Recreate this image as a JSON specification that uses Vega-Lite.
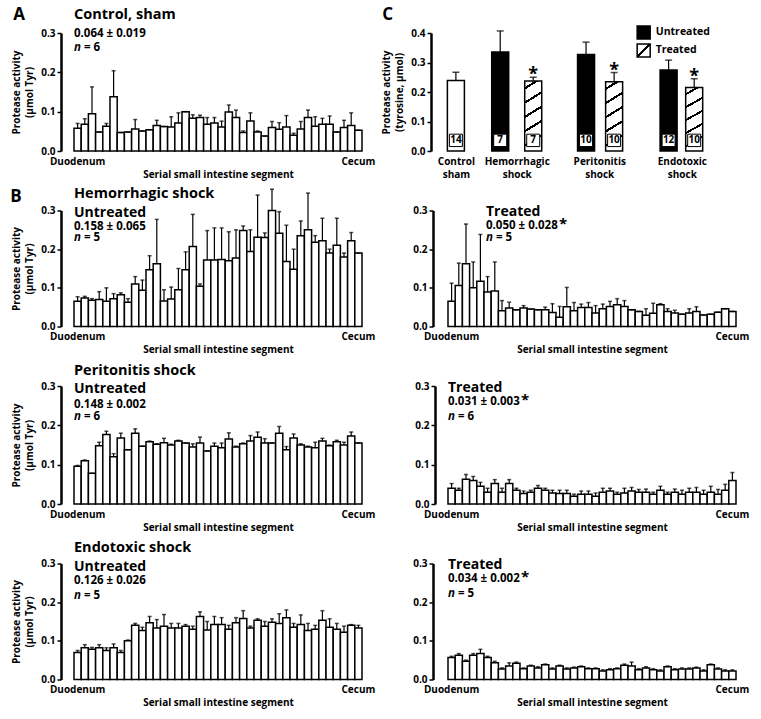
{
"$schema": "https://vega.github.io/schema/vega-lite/v6.json",
"padding": {"left": 10, "top": 5, "right": 5, "bottom": 5},
"bounds": "flush",
"columns": 2,
"spacing": {"row": 59.5, "column": 86},
"config": {
  "font": "Open Sans",
  "view": {"stroke": null},
  "axis": {"labelFont": "Open Sans", "titleFont": "Open Sans", "labelFontWeight": "bold", "titleFontWeight": "bold", "labelColor": "black", "titleColor": "black", "grid": false, "labelOverlap": false},
  "axisY": {"labelOverlap": false, "labelSeparation": -200},
  "axisQuantitative": {"labelOverlap": false},
  "text": {"font": "Open Sans", "fontWeight": "bold", "color": "black"}
},
"datasets": {
"ctrl": [{"s":1,"v":0.058,"u":0.07},{"s":2,"v":0.068,"u":0.082},{"s":3,"v":0.095,"u":0.163},{"s":4,"v":0.048,"u":0.048},{"s":5,"v":0.063,"u":0.07},{"s":6,"v":0.138,"u":0.204},{"s":7,"v":0.047,"u":0.047},{"s":8,"v":0.048,"u":0.048},{"s":9,"v":0.056,"u":0.08},{"s":10,"v":0.051,"u":0.051},{"s":11,"v":0.054,"u":0.054},{"s":12,"v":0.065,"u":0.078},{"s":13,"v":0.062,"u":0.062},{"s":14,"v":0.061,"u":0.087},{"s":15,"v":0.071,"u":0.097},{"s":16,"v":0.1,"u":0.1},{"s":17,"v":0.083,"u":0.092},{"s":18,"v":0.085,"u":0.091},{"s":19,"v":0.068,"u":0.085},{"s":20,"v":0.071,"u":0.085},{"s":21,"v":0.061,"u":0.076},{"s":22,"v":0.099,"u":0.117},{"s":23,"v":0.085,"u":0.104},{"s":24,"v":0.047,"u":0.051},{"s":25,"v":0.076,"u":0.097},{"s":26,"v":0.048,"u":0.051},{"s":27,"v":0.038,"u":0.038},{"s":28,"v":0.06,"u":0.075},{"s":29,"v":0.055,"u":0.072},{"s":30,"v":0.061,"u":0.09},{"s":31,"v":0.04,"u":0.045},{"s":32,"v":0.056,"u":0.075},{"s":33,"v":0.085,"u":0.104},{"s":34,"v":0.063,"u":0.087},{"s":35,"v":0.068,"u":0.083},{"s":36,"v":0.068,"u":0.089},{"s":37,"v":0.048,"u":0.048},{"s":38,"v":0.06,"u":0.078},{"s":39,"v":0.065,"u":0.097},{"s":40,"v":0.053,"u":0.053}],
"hemU": [{"s":1,"v":0.065,"u":0.077},{"s":2,"v":0.074,"u":0.078},{"s":3,"v":0.068,"u":0.072},{"s":4,"v":0.07,"u":0.09},{"s":5,"v":0.065,"u":0.1},{"s":6,"v":0.072,"u":0.085},{"s":7,"v":0.082,"u":0.087},{"s":8,"v":0.063,"u":0.072},{"s":9,"v":0.11,"u":0.129},{"s":10,"v":0.094,"u":0.12},{"s":11,"v":0.147,"u":0.183},{"s":12,"v":0.162,"u":0.277},{"s":13,"v":0.066,"u":0.095},{"s":14,"v":0.071,"u":0.102},{"s":15,"v":0.095,"u":0.15},{"s":16,"v":0.147,"u":0.193},{"s":17,"v":0.207,"u":0.29},{"s":18,"v":0.104,"u":0.11},{"s":19,"v":0.172,"u":0.248},{"s":20,"v":0.172,"u":0.255},{"s":21,"v":0.173,"u":0.255},{"s":22,"v":0.17,"u":0.245},{"s":23,"v":0.177,"u":0.25},{"s":24,"v":0.248,"u":0.26},{"s":25,"v":0.194,"u":0.25},{"s":26,"v":0.231,"u":0.34},{"s":27,"v":0.23,"u":0.242},{"s":28,"v":0.3,"u":0.355},{"s":29,"v":0.241,"u":0.297},{"s":30,"v":0.168,"u":0.262},{"s":31,"v":0.148,"u":0.2},{"s":32,"v":0.235,"u":0.273},{"s":33,"v":0.25,"u":0.345},{"s":34,"v":0.218,"u":0.235},{"s":35,"v":0.222,"u":0.28},{"s":36,"v":0.19,"u":0.2},{"s":37,"v":0.21,"u":0.28},{"s":38,"v":0.18,"u":0.19},{"s":39,"v":0.222,"u":0.243},{"s":40,"v":0.19,"u":0.19}],
"hemT": [{"s":1,"v":0.065,"u":0.112},{"s":2,"v":0.106,"u":0.164},{"s":3,"v":0.162,"u":0.265},{"s":4,"v":0.1,"u":0.167},{"s":5,"v":0.117,"u":0.238},{"s":6,"v":0.089,"u":0.129},{"s":7,"v":0.092,"u":0.167},{"s":8,"v":0.041,"u":0.067},{"s":9,"v":0.048,"u":0.063},{"s":10,"v":0.043,"u":0.043},{"s":11,"v":0.048,"u":0.054},{"s":12,"v":0.045,"u":0.045},{"s":13,"v":0.043,"u":0.043},{"s":14,"v":0.043,"u":0.05},{"s":15,"v":0.036,"u":0.059},{"s":16,"v":0.024,"u":0.052},{"s":17,"v":0.051,"u":0.101},{"s":18,"v":0.041,"u":0.062},{"s":19,"v":0.049,"u":0.058},{"s":20,"v":0.049,"u":0.062},{"s":21,"v":0.035,"u":0.054},{"s":22,"v":0.046,"u":0.058},{"s":23,"v":0.052,"u":0.065},{"s":24,"v":0.056,"u":0.072},{"s":25,"v":0.052,"u":0.067},{"s":26,"v":0.043,"u":0.043},{"s":27,"v":0.039,"u":0.039},{"s":28,"v":0.029,"u":0.046},{"s":29,"v":0.034,"u":0.06},{"s":30,"v":0.056,"u":0.059},{"s":31,"v":0.039,"u":0.046},{"s":32,"v":0.035,"u":0.042},{"s":33,"v":0.032,"u":0.032},{"s":34,"v":0.035,"u":0.046},{"s":35,"v":0.039,"u":0.051},{"s":36,"v":0.03,"u":0.03},{"s":37,"v":0.032,"u":0.032},{"s":38,"v":0.037,"u":0.037},{"s":39,"v":0.046,"u":0.046},{"s":40,"v":0.039,"u":0.039}],
"periU": [{"s":1,"v":0.096,"u":0.098},{"s":2,"v":0.11,"u":0.112},{"s":3,"v":0.078,"u":0.078},{"s":4,"v":0.148,"u":0.157},{"s":5,"v":0.177,"u":0.185},{"s":6,"v":0.12,"u":0.128},{"s":7,"v":0.168,"u":0.18},{"s":8,"v":0.138,"u":0.138},{"s":9,"v":0.18,"u":0.191},{"s":10,"v":0.147,"u":0.147},{"s":11,"v":0.158,"u":0.16},{"s":12,"v":0.152,"u":0.153},{"s":13,"v":0.156,"u":0.167},{"s":14,"v":0.15,"u":0.152},{"s":15,"v":0.16,"u":0.162},{"s":16,"v":0.155,"u":0.155},{"s":17,"v":0.145,"u":0.153},{"s":18,"v":0.155,"u":0.17},{"s":19,"v":0.135,"u":0.135},{"s":20,"v":0.147,"u":0.155},{"s":21,"v":0.143,"u":0.155},{"s":22,"v":0.165,"u":0.181},{"s":23,"v":0.145,"u":0.147},{"s":24,"v":0.153,"u":0.155},{"s":25,"v":0.16,"u":0.174},{"s":26,"v":0.17,"u":0.183},{"s":27,"v":0.155,"u":0.166},{"s":28,"v":0.155,"u":0.155},{"s":29,"v":0.18,"u":0.197},{"s":30,"v":0.138,"u":0.146},{"s":31,"v":0.168,"u":0.178},{"s":32,"v":0.15,"u":0.153},{"s":33,"v":0.145,"u":0.147},{"s":34,"v":0.143,"u":0.157},{"s":35,"v":0.16,"u":0.167},{"s":36,"v":0.148,"u":0.15},{"s":37,"v":0.158,"u":0.162},{"s":38,"v":0.15,"u":0.157},{"s":39,"v":0.173,"u":0.183},{"s":40,"v":0.155,"u":0.155}],
"periT": [{"s":1,"v":0.04,"u":0.052},{"s":2,"v":0.035,"u":0.04},{"s":3,"v":0.063,"u":0.075},{"s":4,"v":0.06,"u":0.07},{"s":5,"v":0.045,"u":0.055},{"s":6,"v":0.03,"u":0.04},{"s":7,"v":0.052,"u":0.062},{"s":8,"v":0.03,"u":0.04},{"s":9,"v":0.052,"u":0.062},{"s":10,"v":0.035,"u":0.04},{"s":11,"v":0.027,"u":0.033},{"s":12,"v":0.03,"u":0.035},{"s":13,"v":0.04,"u":0.047},{"s":14,"v":0.035,"u":0.04},{"s":15,"v":0.028,"u":0.035},{"s":16,"v":0.027,"u":0.035},{"s":17,"v":0.027,"u":0.035},{"s":18,"v":0.02,"u":0.025},{"s":19,"v":0.025,"u":0.033},{"s":20,"v":0.025,"u":0.033},{"s":21,"v":0.02,"u":0.028},{"s":22,"v":0.03,"u":0.04},{"s":23,"v":0.033,"u":0.04},{"s":24,"v":0.025,"u":0.03},{"s":25,"v":0.028,"u":0.04},{"s":26,"v":0.033,"u":0.042},{"s":27,"v":0.03,"u":0.037},{"s":28,"v":0.03,"u":0.038},{"s":29,"v":0.025,"u":0.03},{"s":30,"v":0.035,"u":0.045},{"s":31,"v":0.025,"u":0.03},{"s":32,"v":0.03,"u":0.038},{"s":33,"v":0.025,"u":0.035},{"s":34,"v":0.03,"u":0.04},{"s":35,"v":0.03,"u":0.042},{"s":36,"v":0.025,"u":0.035},{"s":37,"v":0.03,"u":0.045},{"s":38,"v":0.025,"u":0.037},{"s":39,"v":0.035,"u":0.05},{"s":40,"v":0.06,"u":0.08}],
"endoU": [{"s":1,"v":0.07,"u":0.075},{"s":2,"v":0.082,"u":0.09},{"s":3,"v":0.078,"u":0.083},{"s":4,"v":0.082,"u":0.09},{"s":5,"v":0.075,"u":0.082},{"s":6,"v":0.082,"u":0.092},{"s":7,"v":0.07,"u":0.075},{"s":8,"v":0.1,"u":0.102},{"s":9,"v":0.14,"u":0.145},{"s":10,"v":0.127,"u":0.135},{"s":11,"v":0.147,"u":0.163},{"s":12,"v":0.133,"u":0.155},{"s":13,"v":0.138,"u":0.168},{"s":14,"v":0.133,"u":0.145},{"s":15,"v":0.133,"u":0.145},{"s":16,"v":0.138,"u":0.142},{"s":17,"v":0.13,"u":0.138},{"s":18,"v":0.163,"u":0.175},{"s":19,"v":0.128,"u":0.15},{"s":20,"v":0.142,"u":0.163},{"s":21,"v":0.142,"u":0.16},{"s":22,"v":0.13,"u":0.14},{"s":23,"v":0.147,"u":0.16},{"s":24,"v":0.158,"u":0.178},{"s":25,"v":0.133,"u":0.138},{"s":26,"v":0.153,"u":0.157},{"s":27,"v":0.138,"u":0.15},{"s":28,"v":0.148,"u":0.157},{"s":29,"v":0.145,"u":0.17},{"s":30,"v":0.16,"u":0.18},{"s":31,"v":0.135,"u":0.145},{"s":32,"v":0.142,"u":0.167},{"s":33,"v":0.127,"u":0.145},{"s":34,"v":0.13,"u":0.14},{"s":35,"v":0.153,"u":0.178},{"s":36,"v":0.135,"u":0.157},{"s":37,"v":0.13,"u":0.145},{"s":38,"v":0.122,"u":0.138},{"s":39,"v":0.14,"u":0.142},{"s":40,"v":0.133,"u":0.14}],
"endoT": [{"s":1,"v":0.057,"u":0.06},{"s":2,"v":0.063,"u":0.067},{"s":3,"v":0.047,"u":0.05},{"s":4,"v":0.063,"u":0.067},{"s":5,"v":0.067,"u":0.078},{"s":6,"v":0.057,"u":0.06},{"s":7,"v":0.043,"u":0.047},{"s":8,"v":0.027,"u":0.03},{"s":9,"v":0.035,"u":0.043},{"s":10,"v":0.042,"u":0.045},{"s":11,"v":0.028,"u":0.03},{"s":12,"v":0.035,"u":0.037},{"s":13,"v":0.03,"u":0.033},{"s":14,"v":0.038,"u":0.04},{"s":15,"v":0.027,"u":0.03},{"s":16,"v":0.035,"u":0.037},{"s":17,"v":0.027,"u":0.03},{"s":18,"v":0.03,"u":0.032},{"s":19,"v":0.033,"u":0.035},{"s":20,"v":0.028,"u":0.03},{"s":21,"v":0.028,"u":0.03},{"s":22,"v":0.022,"u":0.025},{"s":23,"v":0.025,"u":0.028},{"s":24,"v":0.028,"u":0.03},{"s":25,"v":0.037,"u":0.04},{"s":26,"v":0.035,"u":0.045},{"s":27,"v":0.025,"u":0.028},{"s":28,"v":0.03,"u":0.033},{"s":29,"v":0.025,"u":0.028},{"s":30,"v":0.022,"u":0.025},{"s":31,"v":0.033,"u":0.035},{"s":32,"v":0.025,"u":0.028},{"s":33,"v":0.027,"u":0.03},{"s":34,"v":0.027,"u":0.03},{"s":35,"v":0.03,"u":0.032},{"s":36,"v":0.022,"u":0.025},{"s":37,"v":0.038,"u":0.04},{"s":38,"v":0.027,"u":0.03},{"s":39,"v":0.022,"u":0.025},{"s":40,"v":0.022,"u":0.025}],
"summary": [{"g":"Control","t":"Sham","p":0.263,"v":0.239,"u":0.267,"n":"14"},{"g":"Hemorrhagic","t":"Untreated","p":0.8,"v":0.336,"u":0.407,"n":"7"},{"g":"Hemorrhagic","t":"Treated","p":1.2,"v":0.237,"u":0.25,"n":"7"},{"g":"Peritonitis","t":"Untreated","p":1.84,"v":0.327,"u":0.369,"n":"10"},{"g":"Peritonitis","t":"Treated","p":2.18,"v":0.235,"u":0.266,"n":"10"},{"g":"Endotoxic","t":"Untreated","p":2.84,"v":0.275,"u":0.308,"n":"12"},{"g":"Endotoxic","t":"Treated","p":3.15,"v":0.215,"u":0.245,"n":"10"}]
},
"concat": [
 {"width": 288, "height": 118, "data": {"name": "ctrl"},
  "layer": [
   {"mark": {"type": "bar", "fill": "white", "stroke": "black", "strokeWidth": 1.5},
    "encoding": {"x": {"field": "s", "type": "ordinal", "scale": {"paddingInner": 0, "paddingOuter": 0}, "axis": {"values": [1, 40], "labelExpr": "datum.value == 1 ? 'Duodenum' : 'Cecum'", "ticks": false, "tickSize": 0, "domain": false, "labelAngle": 0, "title": "Serial small intestine segment", "labelPadding": 5, "titlePadding": 3, "labelFontSize": 10, "titleFontSize": 10, "labelOverlap": false}},
     "y": {"field": "v", "type": "quantitative", "scale": {"domain": [0, 0.3], "nice": false}, "axis": {"title": ["Protease activity", "(µmol Tyr)"], "tickCount": 4, "format": ".1f", "offset": 13, "domainWidth": 2.5, "domainColor": "black", "tickWidth": 1.5, "tickSize": 4, "tickColor": "black", "labelPadding": 2, "titlePadding": 6, "titleLineHeight": 13, "labelFontSize": 10, "titleFontSize": 10, "labelOverlap": false, "labelSeparation": -200}}}},
   {"mark": {"type": "rule", "color": "black", "strokeWidth": 1.2}, "encoding": {"x": {"field": "s", "type": "ordinal"}, "y": {"field": "v", "type": "quantitative"}, "y2": {"field": "u"}}},
   {"mark": {"type": "tick", "color": "black", "thickness": 1.5, "size": 4}, "encoding": {"x": {"field": "s", "type": "ordinal"}, "y": {"field": "u", "type": "quantitative"}}},
   {"data": {"values": [{"t": "Control, sham"}]}, "mark": {"type": "text", "align": "left", "baseline": "middle", "fontSize": 14.5}, "encoding": {"x": {"datum": 1, "type": "ordinal", "bandPosition": 0}, "y": {"datum": 0.3458, "type": "quantitative"}, "text": {"field": "t"}}},
   {"data": {"values": [{"t": "0.064 ± 0.019"}]}, "mark": {"type": "text", "align": "left", "baseline": "middle", "fontSize": 11.5}, "encoding": {"x": {"datum": 1, "type": "ordinal", "bandPosition": 0}, "y": {"datum": 0.2975, "type": "quantitative"}, "text": {"field": "t"}}},
   {"data": {"values": [{"t": "n"}]}, "mark": {"type": "text", "align": "left", "baseline": "middle", "fontSize": 11.5, "fontStyle": "italic"}, "encoding": {"x": {"datum": 1, "type": "ordinal", "bandPosition": 0}, "y": {"datum": 0.262, "type": "quantitative"}, "text": {"field": "t"}}},
   {"data": {"values": [{"t": "= 6"}]}, "mark": {"type": "text", "align": "left", "baseline": "middle", "fontSize": 11.5, "dx": 10}, "encoding": {"x": {"datum": 1, "type": "ordinal", "bandPosition": 0}, "y": {"datum": 0.262, "type": "quantitative"}, "text": {"field": "t"}}},
   {"data": {"values": [{"t": "A"}]}, "mark": {"type": "text", "align": "center", "baseline": "middle", "fontSize": 17, "dx": -55}, "encoding": {"x": {"datum": 1, "type": "ordinal", "bandPosition": 0}, "y": {"datum": 0.3458, "type": "quantitative"}, "text": {"field": "t"}}}
  ]},
 {"width": 288, "height": 118, "data": {"name": "summary"},
  "layer": [
   {"transform": [{"filter": "datum.g == 'Control'"}], "mark": {"type": "bar", "width": 17, "fill": "white", "stroke": "black", "strokeWidth": 1.5},
    "encoding": {"x": {"field": "p", "type": "quantitative", "scale": {"domain": [0.228, 3.596], "nice": false, "zero": false}, "axis": {"values": [0.263, 1, 2, 3], "labelExpr": "datum.value < 0.5 ? ['Control','sham'] : datum.value < 1.5 ? ['Hemorrhagic','shock'] : datum.value < 2.5 ? ['Peritonitis','shock'] : ['Endotoxic','shock']", "ticks": false, "tickSize": 0, "domain": false, "title": null, "labelPadding": 5, "labelFontSize": 10, "labelLineHeight": 13, "labelFlush": false, "labelOverlap": false, "labelBound": false}},
     "y": {"field": "v", "type": "quantitative", "scale": {"domain": [0, 0.4], "nice": false}, "axis": {"title": ["Protease activity", "(tyrosine, µmol)"], "tickCount": 5, "format": ".1f", "offset": 17, "domainWidth": 2.5, "domainColor": "black", "tickWidth": 1.5, "tickSize": 4, "tickColor": "black", "labelPadding": 2, "titlePadding": 6, "titleLineHeight": 13, "labelFontSize": 10, "titleFontSize": 10, "labelOverlap": false, "labelSeparation": -200}}}},
   {"transform": [{"filter": "datum.g != 'Control'"}], "mark": {"type": "bar", "width": 17, "stroke": "black", "strokeWidth": 1.5},
    "encoding": {"x": {"field": "p", "type": "quantitative"}, "y": {"field": "v", "type": "quantitative"},
     "fill": {"condition": {"test": "datum.t == 'Treated'", "value": {"gradient": "linear", "x1": 0, "y1": 0, "x2": 0.15, "y2": 1, "stops": [{"offset": 0, "color": "white"}, {"offset": 0.085, "color": "white"}, {"offset": 0.085, "color": "black"}, {"offset": 0.12, "color": "black"}, {"offset": 0.12, "color": "white"}, {"offset": 0.285, "color": "white"}, {"offset": 0.285, "color": "black"}, {"offset": 0.32, "color": "black"}, {"offset": 0.32, "color": "white"}, {"offset": 0.485, "color": "white"}, {"offset": 0.485, "color": "black"}, {"offset": 0.52, "color": "black"}, {"offset": 0.52, "color": "white"}, {"offset": 0.685, "color": "white"}, {"offset": 0.685, "color": "black"}, {"offset": 0.72, "color": "black"}, {"offset": 0.72, "color": "white"}, {"offset": 0.885, "color": "white"}, {"offset": 0.885, "color": "black"}, {"offset": 0.92, "color": "black"}, {"offset": 0.92, "color": "white"}, {"offset": 1, "color": "white"}]}}, "value": "black"}}},
   {"mark": {"type": "rule", "color": "black", "strokeWidth": 1.2}, "encoding": {"x": {"field": "p", "type": "quantitative"}, "y": {"field": "v", "type": "quantitative"}, "y2": {"field": "u"}}},
   {"mark": {"type": "tick", "color": "black", "thickness": 1.5, "size": 7, "orient": "horizontal"}, "encoding": {"x": {"field": "p", "type": "quantitative"}, "y": {"field": "u", "type": "quantitative"}}},
   {"mark": {"type": "bar", "width": 13, "fill": "white", "stroke": "black", "strokeWidth": 1}, "encoding": {"x": {"field": "p", "type": "quantitative"}, "y": {"datum": 0.015, "type": "quantitative"}, "y2": {"datum": 0.057}}},
   {"mark": {"type": "text", "align": "center", "baseline": "middle", "fontSize": 10}, "encoding": {"x": {"field": "p", "type": "quantitative"}, "y": {"datum": 0.036, "type": "quantitative"}, "text": {"field": "n"}}},
   {"transform": [{"filter": "datum.t == 'Treated'"}], "mark": {"type": "text", "align": "center", "baseline": "bottom", "fontSize": 18, "dy": 7}, "encoding": {"x": {"field": "p", "type": "quantitative"}, "y": {"field": "u", "type": "quantitative"}, "text": {"value": "*"}}},
   {"data": {"values": [{"t": "Untreated"}]}, "mark": {"type": "point", "shape": "square", "size": 169, "filled": true, "fill": "black", "stroke": "black", "strokeWidth": 1.5, "opacity": 1}, "encoding": {"x": {"datum": 2.538, "type": "quantitative"}, "y": {"datum": 0.4017, "type": "quantitative"}}},
   {"data": {"values": [{"t": "Treated"}]}, "mark": {"type": "point", "shape": "square", "size": 169, "filled": true, "stroke": "black", "strokeWidth": 1.5, "opacity": 1, "fill": {"gradient": "linear", "x1": 0, "y1": 0, "x2": 1, "y2": 1, "stops": [{"offset": 0, "color": "white"}, {"offset": 0.44, "color": "white"}, {"offset": 0.44, "color": "black"}, {"offset": 0.56, "color": "black"}, {"offset": 0.56, "color": "white"}, {"offset": 1, "color": "white"}]}}, "encoding": {"x": {"datum": 2.538, "type": "quantitative"}, "y": {"datum": 0.3407, "type": "quantitative"}}},
   {"data": {"values": [{"t": "Untreated"}]}, "mark": {"type": "text", "align": "left", "baseline": "middle", "fontSize": 10.5}, "encoding": {"x": {"datum": 2.684, "type": "quantitative"}, "y": {"datum": 0.4017, "type": "quantitative"}, "text": {"field": "t"}}},
   {"data": {"values": [{"t": "Treated"}]}, "mark": {"type": "text", "align": "left", "baseline": "middle", "fontSize": 10.5}, "encoding": {"x": {"datum": 2.684, "type": "quantitative"}, "y": {"datum": 0.3407, "type": "quantitative"}, "text": {"field": "t"}}},
   {"data": {"values": [{"t": "C"}]}, "mark": {"type": "text", "align": "center", "baseline": "middle", "fontSize": 17}, "encoding": {"x": {"datum": -0.564, "type": "quantitative"}, "y": {"datum": 0.461, "type": "quantitative"}, "text": {"field": "t"}}}
  ]},
 {"width": 288, "height": 116, "data": {"name": "hemU"},
  "layer": [
   {"mark": {"type": "bar", "fill": "white", "stroke": "black", "strokeWidth": 1.5},
    "encoding": {"x": {"field": "s", "type": "ordinal", "scale": {"paddingInner": 0, "paddingOuter": 0}, "axis": {"values": [1, 40], "labelExpr": "datum.value == 1 ? 'Duodenum' : 'Cecum'", "ticks": false, "tickSize": 0, "domain": false, "labelAngle": 0, "title": "Serial small intestine segment", "labelPadding": 5, "titlePadding": 3, "labelFontSize": 10, "titleFontSize": 10, "labelOverlap": false}},
     "y": {"field": "v", "type": "quantitative", "scale": {"domain": [0, 0.3], "nice": false}, "axis": {"title": ["Protease activity", "(µmol Tyr)"], "tickCount": 4, "format": ".1f", "offset": 13, "domainWidth": 2.5, "domainColor": "black", "tickWidth": 1.5, "tickSize": 4, "tickColor": "black", "labelPadding": 2, "titlePadding": 6, "titleLineHeight": 13, "labelFontSize": 10, "titleFontSize": 10, "labelOverlap": false, "labelSeparation": -200}}}},
   {"mark": {"type": "rule", "color": "black", "strokeWidth": 1.2}, "encoding": {"x": {"field": "s", "type": "ordinal"}, "y": {"field": "v", "type": "quantitative"}, "y2": {"field": "u"}}},
   {"mark": {"type": "tick", "color": "black", "thickness": 1.5, "size": 4}, "encoding": {"x": {"field": "s", "type": "ordinal"}, "y": {"field": "u", "type": "quantitative"}}},
   {"data": {"values": [{"t": "Hemorrhagic shock"}]}, "mark": {"type": "text", "align": "left", "baseline": "middle", "fontSize": 14.5}, "encoding": {"x": {"datum": 1, "type": "ordinal", "bandPosition": 0}, "y": {"datum": 0.3414, "type": "quantitative"}, "text": {"field": "t"}}},
   {"data": {"values": [{"t": "Untreated"}]}, "mark": {"type": "text", "align": "left", "baseline": "middle", "fontSize": 14}, "encoding": {"x": {"datum": 1, "type": "ordinal", "bandPosition": 0}, "y": {"datum": 0.2948, "type": "quantitative"}, "text": {"field": "t"}}},
   {"data": {"values": [{"t": "0.158 ± 0.065"}]}, "mark": {"type": "text", "align": "left", "baseline": "middle", "fontSize": 11.5}, "encoding": {"x": {"datum": 1, "type": "ordinal", "bandPosition": 0}, "y": {"datum": 0.2586, "type": "quantitative"}, "text": {"field": "t"}}},
   {"data": {"values": [{"t": "n"}]}, "mark": {"type": "text", "align": "left", "baseline": "middle", "fontSize": 11.5, "fontStyle": "italic"}, "encoding": {"x": {"datum": 1, "type": "ordinal", "bandPosition": 0}, "y": {"datum": 0.23, "type": "quantitative"}, "text": {"field": "t"}}},
   {"data": {"values": [{"t": "= 5"}]}, "mark": {"type": "text", "align": "left", "baseline": "middle", "fontSize": 11.5, "dx": 10}, "encoding": {"x": {"datum": 1, "type": "ordinal", "bandPosition": 0}, "y": {"datum": 0.23, "type": "quantitative"}, "text": {"field": "t"}}},
   {"data": {"values": [{"t": "B"}]}, "mark": {"type": "text", "align": "center", "baseline": "middle", "fontSize": 17, "dx": -58}, "encoding": {"x": {"datum": 1, "type": "ordinal", "bandPosition": 0}, "y": {"datum": 0.3362, "type": "quantitative"}, "text": {"field": "t"}}}
  ]},
 {"width": 288, "height": 116, "data": {"name": "hemT"},
  "layer": [
   {"mark": {"type": "bar", "fill": "white", "stroke": "black", "strokeWidth": 1.5},
    "encoding": {"x": {"field": "s", "type": "ordinal", "scale": {"paddingInner": 0, "paddingOuter": 0}, "axis": {"values": [1, 40], "labelExpr": "datum.value == 1 ? 'Duodenum' : 'Cecum'", "ticks": false, "tickSize": 0, "domain": false, "labelAngle": 0, "title": "Serial small intestine segment", "labelPadding": 5, "titlePadding": 3, "labelFontSize": 10, "titleFontSize": 10, "labelOverlap": false}},
     "y": {"field": "v", "type": "quantitative", "scale": {"domain": [0, 0.3], "nice": false}, "axis": {"title": null, "tickCount": 4, "format": ".1f", "offset": 15, "domainWidth": 2.5, "domainColor": "black", "tickWidth": 1.5, "tickSize": 4, "tickColor": "black", "labelPadding": 2, "labelFontSize": 10, "labelOverlap": false, "labelSeparation": -200}}}},
   {"mark": {"type": "rule", "color": "black", "strokeWidth": 1.2}, "encoding": {"x": {"field": "s", "type": "ordinal"}, "y": {"field": "v", "type": "quantitative"}, "y2": {"field": "u"}}},
   {"mark": {"type": "tick", "color": "black", "thickness": 1.5, "size": 4}, "encoding": {"x": {"field": "s", "type": "ordinal"}, "y": {"field": "u", "type": "quantitative"}}},
   {"data": {"values": [{"t": "Treated"}]}, "mark": {"type": "text", "align": "left", "baseline": "middle", "fontSize": 14, "dx": 2}, "encoding": {"x": {"datum": 6, "type": "ordinal", "bandPosition": 0}, "y": {"datum": 0.297, "type": "quantitative"}, "text": {"field": "t"}}},
   {"data": {"values": [{"t": "0.050 ± 0.028"}]}, "mark": {"type": "text", "align": "left", "baseline": "middle", "fontSize": 11.5, "dx": 2}, "encoding": {"x": {"datum": 6, "type": "ordinal", "bandPosition": 0}, "y": {"datum": 0.261, "type": "quantitative"}, "text": {"field": "t"}}},
   {"data": {"values": [{"t": "*"}]}, "mark": {"type": "text", "align": "left", "baseline": "middle", "fontSize": 15, "dx": 75, "dy": -2}, "encoding": {"x": {"datum": 6, "type": "ordinal", "bandPosition": 0}, "y": {"datum": 0.261, "type": "quantitative"}, "text": {"field": "t"}}},
   {"data": {"values": [{"t": "n"}]}, "mark": {"type": "text", "align": "left", "baseline": "middle", "fontSize": 11.5, "fontStyle": "italic", "dx": 2}, "encoding": {"x": {"datum": 6, "type": "ordinal", "bandPosition": 0}, "y": {"datum": 0.2276, "type": "quantitative"}, "text": {"field": "t"}}},
   {"data": {"values": [{"t": "= 5"}]}, "mark": {"type": "text", "align": "left", "baseline": "middle", "fontSize": 11.5, "dx": 12}, "encoding": {"x": {"datum": 6, "type": "ordinal", "bandPosition": 0}, "y": {"datum": 0.2276, "type": "quantitative"}, "text": {"field": "t"}}}
  ]},
 {"width": 288, "height": 118, "data": {"name": "periU"},
  "layer": [
   {"mark": {"type": "bar", "fill": "white", "stroke": "black", "strokeWidth": 1.5},
    "encoding": {"x": {"field": "s", "type": "ordinal", "scale": {"paddingInner": 0, "paddingOuter": 0}, "axis": {"values": [1, 40], "labelExpr": "datum.value == 1 ? 'Duodenum' : 'Cecum'", "ticks": false, "tickSize": 0, "domain": false, "labelAngle": 0, "title": "Serial small intestine segment", "labelPadding": 5, "titlePadding": 3, "labelFontSize": 10, "titleFontSize": 10, "labelOverlap": false}},
     "y": {"field": "v", "type": "quantitative", "scale": {"domain": [0, 0.3], "nice": false}, "axis": {"title": ["Protease activity", "(µmol Tyr)"], "tickCount": 4, "format": ".1f", "offset": 13, "domainWidth": 2.5, "domainColor": "black", "tickWidth": 1.5, "tickSize": 4, "tickColor": "black", "labelPadding": 2, "titlePadding": 6, "titleLineHeight": 13, "labelFontSize": 10, "titleFontSize": 10, "labelOverlap": false, "labelSeparation": -200}}}},
   {"mark": {"type": "rule", "color": "black", "strokeWidth": 1.2}, "encoding": {"x": {"field": "s", "type": "ordinal"}, "y": {"field": "v", "type": "quantitative"}, "y2": {"field": "u"}}},
   {"mark": {"type": "tick", "color": "black", "thickness": 1.5, "size": 4}, "encoding": {"x": {"field": "s", "type": "ordinal"}, "y": {"field": "u", "type": "quantitative"}}},
   {"data": {"values": [{"t": "Peritonitis shock"}]}, "mark": {"type": "text", "align": "left", "baseline": "middle", "fontSize": 14.5}, "encoding": {"x": {"datum": 1, "type": "ordinal", "bandPosition": 0}, "y": {"datum": 0.338, "type": "quantitative"}, "text": {"field": "t"}}},
   {"data": {"values": [{"t": "Untreated"}]}, "mark": {"type": "text", "align": "left", "baseline": "middle", "fontSize": 14}, "encoding": {"x": {"datum": 1, "type": "ordinal", "bandPosition": 0}, "y": {"datum": 0.292, "type": "quantitative"}, "text": {"field": "t"}}},
   {"data": {"values": [{"t": "0.148 ± 0.002"}]}, "mark": {"type": "text", "align": "left", "baseline": "middle", "fontSize": 11.5}, "encoding": {"x": {"datum": 1, "type": "ordinal", "bandPosition": 0}, "y": {"datum": 0.252, "type": "quantitative"}, "text": {"field": "t"}}},
   {"data": {"values": [{"t": "n"}]}, "mark": {"type": "text", "align": "left", "baseline": "middle", "fontSize": 11.5, "fontStyle": "italic"}, "encoding": {"x": {"datum": 1, "type": "ordinal", "bandPosition": 0}, "y": {"datum": 0.221, "type": "quantitative"}, "text": {"field": "t"}}},
   {"data": {"values": [{"t": "= 6"}]}, "mark": {"type": "text", "align": "left", "baseline": "middle", "fontSize": 11.5, "dx": 10}, "encoding": {"x": {"datum": 1, "type": "ordinal", "bandPosition": 0}, "y": {"datum": 0.221, "type": "quantitative"}, "text": {"field": "t"}}}
  ]},
 {"width": 288, "height": 118, "data": {"name": "periT"},
  "layer": [
   {"mark": {"type": "bar", "fill": "white", "stroke": "black", "strokeWidth": 1.5},
    "encoding": {"x": {"field": "s", "type": "ordinal", "scale": {"paddingInner": 0, "paddingOuter": 0}, "axis": {"values": [1, 40], "labelExpr": "datum.value == 1 ? 'Duodenum' : 'Cecum'", "ticks": false, "tickSize": 0, "domain": false, "labelAngle": 0, "title": "Serial small intestine segment", "labelPadding": 5, "titlePadding": 3, "labelFontSize": 10, "titleFontSize": 10, "labelOverlap": false}},
     "y": {"field": "v", "type": "quantitative", "scale": {"domain": [0, 0.3], "nice": false}, "axis": {"title": null, "tickCount": 4, "format": ".1f", "offset": 13, "domainWidth": 2.5, "domainColor": "black", "tickWidth": 1.5, "tickSize": 4, "tickColor": "black", "labelPadding": 2, "labelFontSize": 10, "labelOverlap": false, "labelSeparation": -200}}}},
   {"mark": {"type": "rule", "color": "black", "strokeWidth": 1.2}, "encoding": {"x": {"field": "s", "type": "ordinal"}, "y": {"field": "v", "type": "quantitative"}, "y2": {"field": "u"}}},
   {"mark": {"type": "tick", "color": "black", "thickness": 1.5, "size": 4}, "encoding": {"x": {"field": "s", "type": "ordinal"}, "y": {"field": "u", "type": "quantitative"}}},
   {"data": {"values": [{"t": "Treated"}]}, "mark": {"type": "text", "align": "left", "baseline": "middle", "fontSize": 14}, "encoding": {"x": {"datum": 1, "type": "ordinal", "bandPosition": 0}, "y": {"datum": 0.295, "type": "quantitative"}, "text": {"field": "t"}}},
   {"data": {"values": [{"t": "0.031 ± 0.003"}]}, "mark": {"type": "text", "align": "left", "baseline": "middle", "fontSize": 11.5}, "encoding": {"x": {"datum": 1, "type": "ordinal", "bandPosition": 0}, "y": {"datum": 0.259, "type": "quantitative"}, "text": {"field": "t"}}},
   {"data": {"values": [{"t": "*"}]}, "mark": {"type": "text", "align": "left", "baseline": "middle", "fontSize": 15, "dx": 73, "dy": -2}, "encoding": {"x": {"datum": 1, "type": "ordinal", "bandPosition": 0}, "y": {"datum": 0.259, "type": "quantitative"}, "text": {"field": "t"}}},
   {"data": {"values": [{"t": "n"}]}, "mark": {"type": "text", "align": "left", "baseline": "middle", "fontSize": 11.5, "fontStyle": "italic"}, "encoding": {"x": {"datum": 1, "type": "ordinal", "bandPosition": 0}, "y": {"datum": 0.221, "type": "quantitative"}, "text": {"field": "t"}}},
   {"data": {"values": [{"t": "= 6"}]}, "mark": {"type": "text", "align": "left", "baseline": "middle", "fontSize": 11.5, "dx": 10}, "encoding": {"x": {"datum": 1, "type": "ordinal", "bandPosition": 0}, "y": {"datum": 0.221, "type": "quantitative"}, "text": {"field": "t"}}}
  ]},
 {"width": 288, "height": 116, "data": {"name": "endoU"},
  "layer": [
   {"mark": {"type": "bar", "fill": "white", "stroke": "black", "strokeWidth": 1.5},
    "encoding": {"x": {"field": "s", "type": "ordinal", "scale": {"paddingInner": 0, "paddingOuter": 0}, "axis": {"values": [1, 40], "labelExpr": "datum.value == 1 ? 'Duodenum' : 'Cecum'", "ticks": false, "tickSize": 0, "domain": false, "labelAngle": 0, "title": "Serial small intestine segment", "labelPadding": 5, "titlePadding": 3, "labelFontSize": 10, "titleFontSize": 10, "labelOverlap": false}},
     "y": {"field": "v", "type": "quantitative", "scale": {"domain": [0, 0.3], "nice": false}, "axis": {"title": ["Protease activity", "(µmol Tyr)"], "tickCount": 4, "format": ".1f", "offset": 13, "domainWidth": 2.5, "domainColor": "black", "tickWidth": 1.5, "tickSize": 4, "tickColor": "black", "labelPadding": 2, "titlePadding": 6, "titleLineHeight": 13, "labelFontSize": 10, "titleFontSize": 10, "labelOverlap": false, "labelSeparation": -200}}}},
   {"mark": {"type": "rule", "color": "black", "strokeWidth": 1.2}, "encoding": {"x": {"field": "s", "type": "ordinal"}, "y": {"field": "v", "type": "quantitative"}, "y2": {"field": "u"}}},
   {"mark": {"type": "tick", "color": "black", "thickness": 1.5, "size": 4}, "encoding": {"x": {"field": "s", "type": "ordinal"}, "y": {"field": "u", "type": "quantitative"}}},
   {"data": {"values": [{"t": "Endotoxic shock"}]}, "mark": {"type": "text", "align": "left", "baseline": "middle", "fontSize": 14.5}, "encoding": {"x": {"datum": 1, "type": "ordinal", "bandPosition": 0}, "y": {"datum": 0.341, "type": "quantitative"}, "text": {"field": "t"}}},
   {"data": {"values": [{"t": "Untreated"}]}, "mark": {"type": "text", "align": "left", "baseline": "middle", "fontSize": 14}, "encoding": {"x": {"datum": 1, "type": "ordinal", "bandPosition": 0}, "y": {"datum": 0.292, "type": "quantitative"}, "text": {"field": "t"}}},
   {"data": {"values": [{"t": "0.126 ± 0.026"}]}, "mark": {"type": "text", "align": "left", "baseline": "middle", "fontSize": 11.5}, "encoding": {"x": {"datum": 1, "type": "ordinal", "bandPosition": 0}, "y": {"datum": 0.256, "type": "quantitative"}, "text": {"field": "t"}}},
   {"data": {"values": [{"t": "n"}]}, "mark": {"type": "text", "align": "left", "baseline": "middle", "fontSize": 11.5, "fontStyle": "italic"}, "encoding": {"x": {"datum": 1, "type": "ordinal", "bandPosition": 0}, "y": {"datum": 0.217, "type": "quantitative"}, "text": {"field": "t"}}},
   {"data": {"values": [{"t": "= 5"}]}, "mark": {"type": "text", "align": "left", "baseline": "middle", "fontSize": 11.5, "dx": 10}, "encoding": {"x": {"datum": 1, "type": "ordinal", "bandPosition": 0}, "y": {"datum": 0.217, "type": "quantitative"}, "text": {"field": "t"}}}
  ]},
 {"width": 288, "height": 116, "data": {"name": "endoT"},
  "layer": [
   {"mark": {"type": "bar", "fill": "white", "stroke": "black", "strokeWidth": 1.5},
    "encoding": {"x": {"field": "s", "type": "ordinal", "scale": {"paddingInner": 0, "paddingOuter": 0}, "axis": {"values": [1, 40], "labelExpr": "datum.value == 1 ? 'Duodenum' : 'Cecum'", "ticks": false, "tickSize": 0, "domain": false, "labelAngle": 0, "title": "Serial small intestine segment", "labelPadding": 5, "titlePadding": 3, "labelFontSize": 10, "titleFontSize": 10, "labelOverlap": false}},
     "y": {"field": "v", "type": "quantitative", "scale": {"domain": [0, 0.3], "nice": false}, "axis": {"title": null, "tickCount": 4, "format": ".1f", "offset": 15, "domainWidth": 2.5, "domainColor": "black", "tickWidth": 1.5, "tickSize": 4, "tickColor": "black", "labelPadding": 2, "labelFontSize": 10, "labelOverlap": false, "labelSeparation": -200}}}},
   {"mark": {"type": "rule", "color": "black", "strokeWidth": 1.2}, "encoding": {"x": {"field": "s", "type": "ordinal"}, "y": {"field": "v", "type": "quantitative"}, "y2": {"field": "u"}}},
   {"mark": {"type": "tick", "color": "black", "thickness": 1.5, "size": 4}, "encoding": {"x": {"field": "s", "type": "ordinal"}, "y": {"field": "u", "type": "quantitative"}}},
   {"data": {"values": [{"t": "Treated"}]}, "mark": {"type": "text", "align": "left", "baseline": "middle", "fontSize": 14}, "encoding": {"x": {"datum": 1, "type": "ordinal", "bandPosition": 0}, "y": {"datum": 0.295, "type": "quantitative"}, "text": {"field": "t"}}},
   {"data": {"values": [{"t": "0.034 ± 0.002"}]}, "mark": {"type": "text", "align": "left", "baseline": "middle", "fontSize": 11.5}, "encoding": {"x": {"datum": 1, "type": "ordinal", "bandPosition": 0}, "y": {"datum": 0.259, "type": "quantitative"}, "text": {"field": "t"}}},
   {"data": {"values": [{"t": "*"}]}, "mark": {"type": "text", "align": "left", "baseline": "middle", "fontSize": 15, "dx": 73, "dy": -2}, "encoding": {"x": {"datum": 1, "type": "ordinal", "bandPosition": 0}, "y": {"datum": 0.259, "type": "quantitative"}, "text": {"field": "t"}}},
   {"data": {"values": [{"t": "n"}]}, "mark": {"type": "text", "align": "left", "baseline": "middle", "fontSize": 11.5, "fontStyle": "italic"}, "encoding": {"x": {"datum": 1, "type": "ordinal", "bandPosition": 0}, "y": {"datum": 0.222, "type": "quantitative"}, "text": {"field": "t"}}},
   {"data": {"values": [{"t": "= 5"}]}, "mark": {"type": "text", "align": "left", "baseline": "middle", "fontSize": 11.5, "dx": 10}, "encoding": {"x": {"datum": 1, "type": "ordinal", "bandPosition": 0}, "y": {"datum": 0.222, "type": "quantitative"}, "text": {"field": "t"}}}
  ]}
]
}
